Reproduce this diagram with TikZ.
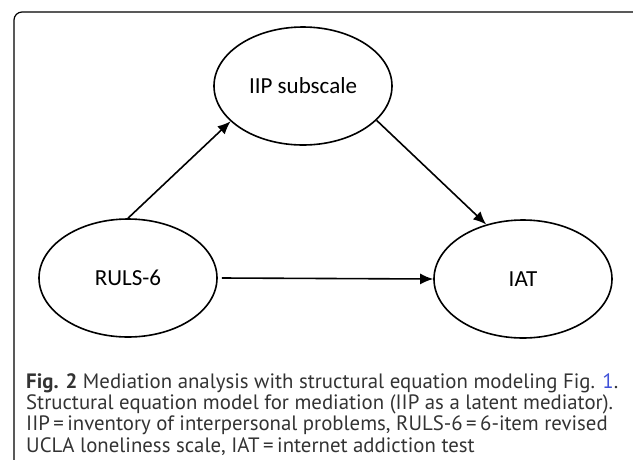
\documentclass[tikz,border=0pt]{standalone}
\usepackage{fontspec}
\setmainfont{Carlito}
\newfontfamily\capfont{PT Sans}
\usetikzlibrary{arrows.meta,shapes.geometric}
\definecolor{captext}{HTML}{333333}
\definecolor{linkblue}{HTML}{3F51D8}

\begin{document}
\begin{tikzpicture}[x=1pt,y=-1pt,
  > = {Latex[length=13pt,width=11pt]},
  var/.style = {draw,ellipse,line width=1.6pt,minimum width=178pt,minimum height=118pt,inner sep=0pt,font=\fontsize{23}{27}\selectfont},
  effect/.style = {->,line width=1.6pt}
  ]
  \useasboundingbox (0,0) rectangle (633,459);
  \clip (0,0) rectangle (633,459);
  \draw[line width=1.2pt,rounded corners=8pt] (14,12) rectangle (641,475);

	\node[var] (iip) at (303,86) {IIP subscale};
	\node[var] (ruls) at (128,278) {RULS-6};
	\node[var] (iat) at (523,279) {IAT};

	\draw[effect] (ruls.north) -- (iip.206);
	\draw[effect] (iip.335) -- (iat.124);
	\draw[effect] ([xshift=4pt]ruls.east) -- (iat.west);

	% caption, anchored at the baseline of its last line
	\node[anchor=base west,align=left,inner sep=0pt,text=captext,
	  font=\capfont\fontsize{20.8}{21.4}\selectfont] (caption) at (26,452.2)
	  {\textbf{Fig. 2} Mediation analysis with structural equation modeling Fig. \textcolor{linkblue}{1}.\\
	   Structural equation model for mediation (IIP as a latent mediator).\\
	   IIP\,=\,inventory of interpersonal problems, RULS-6\,=\,6-item revised\\
	   UCLA loneliness scale, IAT\,=\,internet addiction test};
\end{tikzpicture}
\end{document}
